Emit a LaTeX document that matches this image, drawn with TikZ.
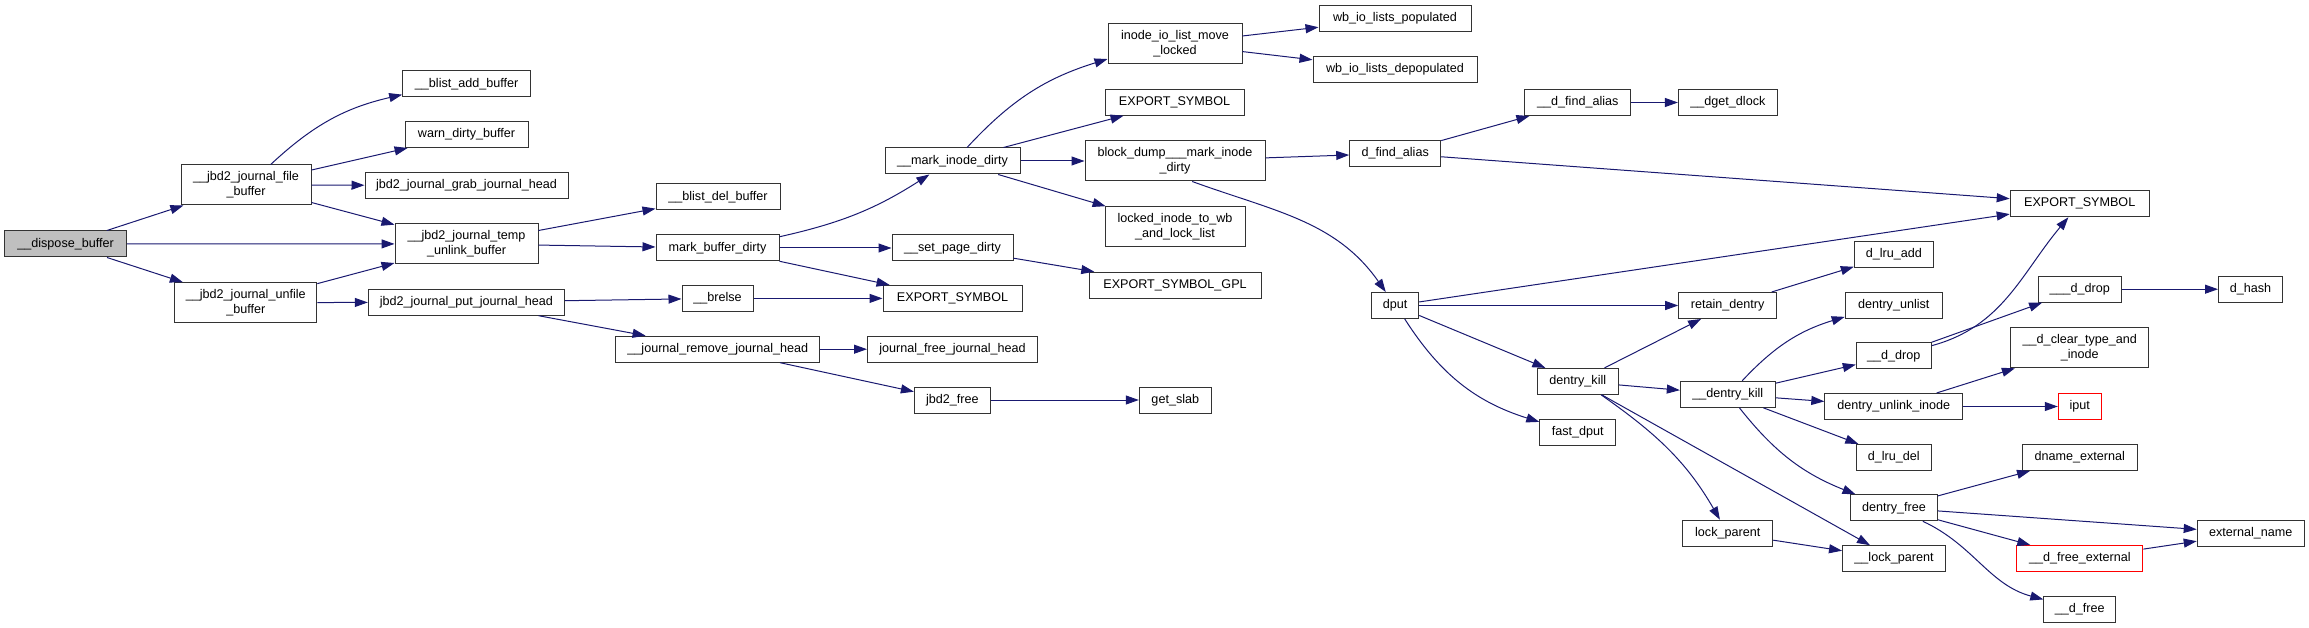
\documentclass[tikz,border=0pt]{standalone}
\usepackage{fontspec}
\setmainfont{Liberation Sans}
\usetikzlibrary{arrows.meta}
\definecolor{cgedge}{RGB}{25,25,112}
\definecolor{cgroot}{RGB}{191,191,191}
\definecolor{cgred}{RGB}{255,0,0}
\tikzset{fn/.style={draw=black!80,fill=white,line width=1pt,align=center,minimum width=#1,minimum height=26pt,inner sep=1pt,font=\fontsize{12.6}{14.7}\selectfont},
  fntwo/.style={fn=#1,minimum height=40pt},
  call/.style={draw=cgedge,line width=1pt,-{Triangle[length=13pt,width=9pt]}}}

\begin{document}
\begin{tikzpicture}[x=1pt,y=1pt]
    \useasboundingbox (0,0) rectangle (2309,-628);
    % journal side
    \node[fn=122pt,fill=cgroot] (dispose) at (65.6,-244) {\_\_dispose\_buffer};
    \node[fntwo=130pt] (filebuf) at (246,-185) {\_\_jbd2\_journal\_file\\\_buffer};
    \node[fntwo=142pt] (unfile) at (245.8,-302.7) {\_\_jbd2\_journal\_unfile\\\_buffer};
    \node[fn=128pt] (blistadd) at (466.7,-83.7) {\_\_blist\_add\_buffer};
    \node[fn=123pt] (warndirty) at (466.5,-134.5) {warn\_dirty\_buffer};
    \node[fn=203pt] (grabjh) at (466.5,-185.4) {jbd2\_journal\_grab\_journal\_head};
    \node[fntwo=143pt] (tempunlink) at (466.5,-243.9) {\_\_jbd2\_journal\_temp\\\_unlink\_buffer};
    \node[fn=196pt] (putjh) at (466.3,-302.2) {jbd2\_journal\_put\_journal\_head};
    \node[fn=124pt] (blistdel) at (718,-197) {\_\_blist\_del\_buffer};
    \node[fn=123pt] (markbuf) at (717.5,-248) {mark\_buffer\_dirty};
    \node[fn=71pt] (brelse) at (717.5,-298.4) {\_\_brelse};
    \node[fn=204pt] (jremove) at (717.8,-349.2) {\_\_journal\_remove\_journal\_head};
    \node[fn=135pt] (markinode) at (952.5,-161) {\_\_mark\_inode\_dirty};
    \node[fn=121pt] (setpage) at (952.5,-248) {\_\_set\_page\_dirty};
    \node[fn=139pt] (exportmid) at (952.5,-298.4) {EXPORT\_SYMBOL};
    \node[fn=170pt] (jfree) at (952.5,-349.2) {journal\_free\_journal\_head};
    \node[fn=76pt] (jbdfree) at (952.4,-400) {jbd2\_free};
    \node[fntwo=134pt] (iolist) at (1175,-43.7) {inode\_io\_list\_move\\\_locked};
    \node[fn=139pt] (exporttop) at (1174.5,-102.2) {EXPORT\_SYMBOL};
    \node[fntwo=180pt] (blockdump) at (1175,-161) {block\_dump\_\_\_mark\_inode\\\_dirty};
    \node[fntwo=140pt] (lockedinode) at (1175,-226.7) {locked\_inode\_to\_wb\\\_and\_lock\_list};
    \node[fn=172pt] (exportgpl) at (1175,-285.2) {EXPORT\_SYMBOL\_GPL};
    \node[fn=72pt] (getslab) at (1175.3,-400) {get\_slab};
    % dcache side
    \node[fn=152pt] (wbpop) at (1395,-18.5) {wb\_io\_lists\_populated};
    \node[fn=164pt] (wbdepop) at (1395,-69.4) {wb\_io\_lists\_depopulated};
    \node[fn=91pt] (findalias) at (1395.2,-153.4) {d\_find\_alias};
    \node[fn=47pt] (dput) at (1395.2,-305.5) {dput};
    \node[fn=106pt] (ufindalias) at (1577.8,-102.5) {\_\_d\_find\_alias};
    \node[fn=81pt] (dentrykill) at (1577.8,-381.4) {dentry\_kill};
    \node[fn=76pt] (fastdput) at (1577.8,-432) {fast\_dput};
    \node[fn=99pt] (dgetdlock) at (1727.9,-102.5) {\_\_dget\_dlock};
    \node[fn=98pt] (retain) at (1727.7,-305.5) {retain\_dentry};
    \node[fn=95pt] (udentrykill) at (1727.8,-394.3) {\_\_dentry\_kill};
    \node[fn=90pt] (lockparent) at (1727.7,-533.2) {lock\_parent};
    \node[fn=79pt] (lruadd) at (1893.8,-254.5) {d\_lru\_add};
    \node[fn=97pt] (unlist) at (1893.7,-305.4) {dentry\_unlist};
    \node[fn=75pt] (ddrop) at (1893.8,-355.8) {\_\_d\_drop};
    \node[fn=138pt] (unlinkinode) at (1893.8,-406.5) {dentry\_unlink\_inode};
    \node[fn=75pt] (lrudel) at (1893.8,-457.4) {d\_lru\_del};
    \node[fn=87pt] (dentryfree) at (1893.9,-507.8) {dentry\_free};
    \node[fn=103pt] (ulockparent) at (1894,-558.7) {\_\_lock\_parent};
    \node[fn=139pt] (exportright) at (2079.7,-203.8) {EXPORT\_SYMBOL};
    \node[fn=83pt] (uddrop) at (2079.8,-289.2) {\_\_\_d\_drop};
    \node[fntwo=138pt] (cleartype) at (2079.8,-347.8) {\_\_d\_clear\_type\_and\\\_inode};
    \node[fn=43pt,draw=cgred] (iput) at (2079.8,-406.5) {iput};
    \node[fn=115pt] (dname) at (2079.8,-457.4) {dname\_external};
    \node[fn=126pt,draw=cgred] (freeext) at (2079.8,-558.5) {\_\_d\_free\_external};
    \node[fn=72pt] (dfree) at (2079.8,-609.2) {\_\_d\_free};
    \node[fn=64pt] (dhash) at (2250.5,-289.2) {d\_hash};
    \node[fn=107pt] (extname) at (2250.7,-533.2) {external\_name};
    % calls
    \draw[call] (dispose) -- (filebuf);
    \draw[call] (dispose) -- (tempunlink);
    \draw[call] (dispose) -- (unfile);
    \draw[call] (filebuf) to[bend left=15] (blistadd);
    \draw[call] (filebuf) -- (warndirty);
    \draw[call] (filebuf) -- (grabjh);
    \draw[call] (filebuf) -- (tempunlink);
    \draw[call] (unfile) -- (tempunlink);
    \draw[call] (unfile) -- (putjh);
    \draw[call] (tempunlink) -- (blistdel);
    \draw[call] (tempunlink) -- (markbuf);
    \draw[call] (putjh) -- (brelse);
    \draw[call] (putjh) -- (jremove);
    \draw[call] (markbuf) to[bend right=10] (markinode);
    \draw[call] (markbuf) -- (setpage);
    \draw[call] (markbuf) -- (exportmid);
    \draw[call] (brelse) -- (exportmid);
    \draw[call] (jremove) -- (jfree);
    \draw[call] (jremove) -- (jbdfree);
    \draw[call] (jbdfree) -- (getslab);
    \draw[call] (setpage) -- (exportgpl);
    \draw[call] (markinode) to[bend left=15] (iolist);
    \draw[call] (markinode) -- (exporttop);
    \draw[call] (markinode) -- (blockdump);
    \draw[call] (markinode) -- (lockedinode);
    \draw[call] (iolist) -- (wbpop);
    \draw[call] (iolist) -- (wbdepop);
    \draw[call] (blockdump) -- (findalias);
    \draw[call] (blockdump.-50) to[out=-20,in=125] (dput);
    \draw[call] (findalias) -- (ufindalias);
    \draw[call] (findalias) -- (exportright);
    \draw[call] (ufindalias) -- (dgetdlock);
    \draw[call] (dput) -- (exportright);
    \draw[call] (dput) -- (retain);
    \draw[call] (dput) -- (dentrykill);
    \draw[call] (dput) to[bend right=20] (fastdput);
    \draw[call] (dentrykill) -- (retain);
    \draw[call] (dentrykill) -- (udentrykill);
    \draw[call] (dentrykill.-30) to[out=-35,in=120] (lockparent);
    \draw[call] (dentrykill) -- (ulockparent);
    \draw[call] (retain) -- (lruadd);
    \draw[call] (udentrykill) to[bend left=15] (unlist);
    \draw[call] (udentrykill) -- (ddrop);
    \draw[call] (udentrykill) -- (unlinkinode);
    \draw[call] (udentrykill) -- (lrudel);
    \draw[call] (udentrykill) to[bend right=15] (dentryfree);
    \draw[call] (lockparent) -- (ulockparent);
    \draw[call] (ddrop) -- (uddrop);
    \draw[call] (ddrop) to[out=15,in=-130] (exportright);
    \draw[call] (uddrop) -- (dhash);
    \draw[call] (unlinkinode) -- (cleartype);
    \draw[call] (unlinkinode) -- (iput);
    \draw[call] (dentryfree) -- (dname);
    \draw[call] (dentryfree) -- (extname);
    \draw[call] (dentryfree) -- (freeext);
    \draw[call] (dentryfree) to[out=-25,in=165] (dfree);
    \draw[call] (freeext) -- (extname);
\end{tikzpicture}
\end{document}
